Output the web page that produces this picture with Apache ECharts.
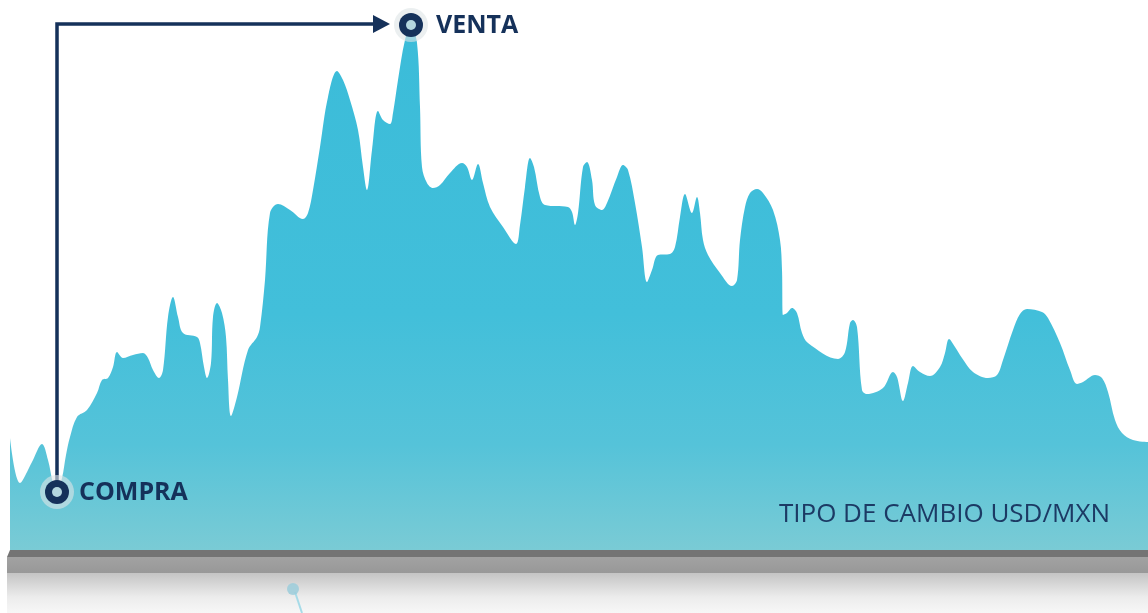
<!DOCTYPE html>
<html><head><meta charset="utf-8">
<script src="https://cdn.jsdelivr.net/npm/echarts@6/dist/echarts.min.js"></script>
<style>html,body{margin:0;padding:0;background:#fff;overflow:hidden}#c{width:1148px;height:613px}</style>
</head><body><div id="c"></div>
<script>
// Time positions (days) and exchange-rate index values
const days = [10,20,32,42,48,53,57,62,66,70,77,87,97,102,108,113,117,123,133,143,148,153,159,163,168,173,178,183,197,200,204,207,211,213,217,222,226,228,231,237,248,257,260,265,270,278,290,303,308,313,320,328,337,343,350,358,363,367,372,378,383,390,393,398,405,411,417,420,422,427,433,440,450,462,467,472,478,483,490,503,516,520,525,530,534,540,545,568,572,575,578,583,587,592,595,602,607,617,623,628,635,642,647,652,658,670,675,680,685,692,697,700,703,708,720,732,737,740,745,750,757,763,773,780,782,783,787,792,797,802,808,838,845,850,853,857,862,867,883,893,897,903,908,913,920,930,940,945,949,955,962,973,988,997,1003,1013,1020,1027,1042,1048,1060,1070,1077,1083,1095,1102,1108,1115,1122,1133,1148];
const values = [112,67,88,106,90,67,58,72,95,113,133,140,157,170,172,183,198,192,195,197,192,180,172,180,233,253,233,217,213,207,183,172,187,233,247,237,213,170,134,153,200,213,223,270,337,346,340,331,337,360,403,453,479,470,450,420,383,360,400,439,430,426,437,470,510,525,507,443,383,367,362,365,377,387,383,370,386,367,343,323,306,325,363,392,383,353,345,343,338,325,337,383,388,370,345,340,347,373,385,380,347,303,268,280,295,296,303,333,356,337,353,337,310,295,277,264,270,310,343,357,361,357,340,310,280,235,237,242,237,217,207,191,198,227,230,223,160,156,162,178,173,149,167,184,178,174,183,197,211,203,192,178,172,175,190,220,236,241,238,232,207,180,166,168,175,172,158,130,117,110,108];
const compraDay = 57;
const ventaDay = 411;
const compraLabel = 'COMPRA';
const ventaLabel = 'VENTA';
const titleLabel = 'TIPO DE CAMBIO USD/MXN';

const chart = echarts.init(document.getElementById('c'), null, {renderer: 'canvas'});
chart.setOption({
  animation: false,
  grid: {left: 10, right: 0, top: 0, bottom: 63},
  xAxis: {type: 'value', min: 10, max: 1148, show: false},
  yAxis: {type: 'value', min: 0, max: 550, show: false},
  series: [{
    type: 'line',
    data: days.map((d, i) => [d, values[i]]),
    smooth: 0.35,
    symbol: 'none',
    lineStyle: {width: 0},
    areaStyle: {
      opacity: 1,
      color: new echarts.graphic.LinearGradient(0, 0, 0, 1, [
        {offset: 0, color: '#3bbcd9'},
        {offset: 0.55, color: '#42bfda'},
        {offset: 0.8, color: '#55c3d9'},
        {offset: 1, color: '#7acbd5'}
      ])
    }
  }]
});

const pC = chart.convertToPixel({gridIndex: 0}, [compraDay, values[days.indexOf(compraDay)]]);
const pV = chart.convertToPixel({gridIndex: 0}, [ventaDay, values[days.indexOf(ventaDay)]]);
const navy = '#15315a';
const lineY = pV[1] - 1;

function marker(p) {
  return [
    {type: 'circle', shape: {cx: p[0], cy: p[1], r: 17}, style: {fill: 'rgba(222,228,230,0.6)'}, z: 100},
    {type: 'circle', shape: {cx: p[0], cy: p[1], r: 12}, style: {fill: navy}, z: 101},
    {type: 'circle', shape: {cx: p[0], cy: p[1], r: 5}, style: {fill: '#b4d6de'}, z: 102}
  ];
}

chart.setOption({
  graphic: [
    {type: 'polygon', shape: {points: [[10, 550], [1148, 550], [1148, 557], [7, 557]]}, style: {fill: '#747474'}, z: 50},
    {type: 'rect', shape: {x: 7, y: 557, width: 1141, height: 16},
      style: {fill: new echarts.graphic.LinearGradient(0, 0, 0, 1, [{offset: 0, color: '#a2a2a2'}, {offset: 1, color: '#989898'}])}, z: 50},
    {type: 'rect', shape: {x: 7, y: 573, width: 1141, height: 40},
      style: {fill: new echarts.graphic.LinearGradient(0, 0, 0, 1, [{offset: 0, color: '#c4c4c4'}, {offset: 0.6, color: '#ececec'}, {offset: 1, color: '#f7f7f7'}])}, z: 50},
    {type: 'line', shape: {x1: 295, y1: 592, x2: 302, y2: 613}, style: {stroke: '#a6dbe8', lineWidth: 2}, z: 51},
    {type: 'circle', shape: {cx: 293, cy: 589, r: 6}, style: {fill: 'rgba(155,205,218,0.85)'}, z: 52},
    {type: 'polyline', shape: {points: [[pC[0], pC[1]], [pC[0], lineY], [pV[0] - 30, lineY]]},
      style: {stroke: navy, lineWidth: 3.5, fill: null, lineJoin: 'miter'}, z: 99},
    {type: 'polygon', shape: {points: [[pV[0] - 38, lineY - 9], [pV[0] - 21, lineY], [pV[0] - 38, lineY + 9]]}, style: {fill: navy}, z: 99},
    ...marker(pC),
    ...marker(pV),
    {type: 'text', x: pC[0] + 22, y: pC[1] + 1, style: {text: compraLabel, fill: navy, font: '700 25px "Open Sans"', textVerticalAlign: 'middle'}, z: 103},
    {type: 'text', x: pV[0] + 25, y: pV[1] + 1, style: {text: ventaLabel, fill: navy, font: '700 25px "Open Sans"', textVerticalAlign: 'middle'}, z: 103},
    {type: 'text', x: 1110, y: 515, style: {text: titleLabel, fill: '#1c3a64', font: '400 26px "Open Sans"', textAlign: 'right', textVerticalAlign: 'middle'}, z: 103}
  ]
});
</script>
</body></html>
